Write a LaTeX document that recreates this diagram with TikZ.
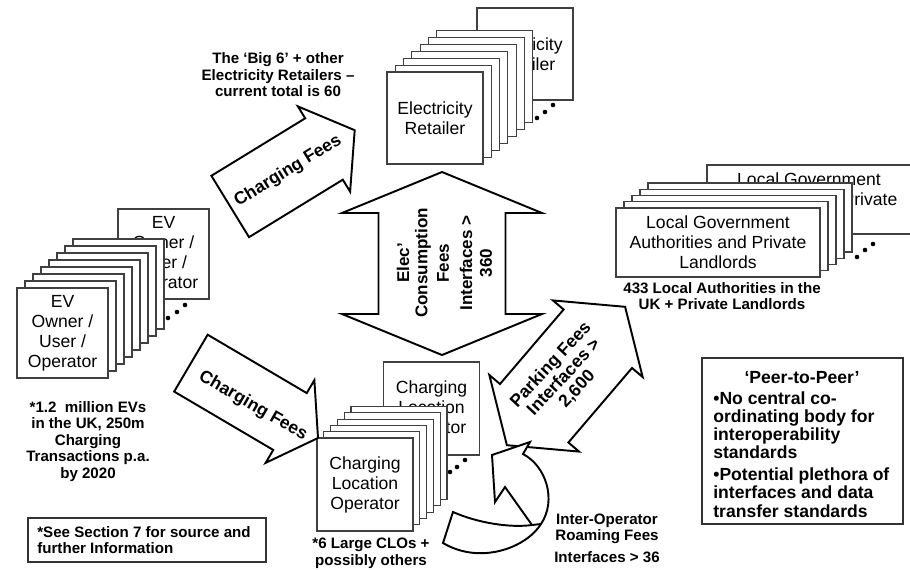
\documentclass[tikz,border=0pt]{standalone}
\usepackage{fontspec}
\setmainfont{Liberation Sans}
\newlength{\pxu}
\setlength{\pxu}{0.02cm}
\tikzset{
  card/.style={draw=black!75, line width=0.6pt, fill=white, inner sep=0pt, align=center,
    font=\fontsize{10}{11.4}\selectfont},
  evcard/.style={card, minimum width=91\pxu, minimum height=90\pxu},
  ercard/.style={card, minimum width=96\pxu, minimum height=92\pxu},
  lgcard/.style={card, minimum width=204\pxu, minimum height=69\pxu},
  clocard/.style={card, minimum width=96\pxu, minimum height=93\pxu},
  blockarrow/.style={draw=black, line width=1.1pt, fill=white, line join=miter, miter limit=20},
  arrowtext/.style={inner sep=0pt, align=center, font=\fontsize{10}{11.4}\selectfont\bfseries},
  elecline/.style={inner sep=0pt, rotate=90, font=\fontsize{9.7}{11}\selectfont\bfseries},
  note/.style={inner sep=0pt, align=center, font=\fontsize{8.6}{9.4}\selectfont\bfseries},
  peertext/.style={inner sep=0pt, font=\fontsize{10}{10.4}\selectfont\bfseries},
  infobox/.style={draw=black!80, line width=0.7pt, fill=white, inner sep=0pt},
  stackdot/.style={fill=black},
}
% single block arrow: base of head, angle, tail length, head length, shaft half width, head half width
\newcommand{\sglarrow}[6]{%
  \begin{scope}[shift={#1}, rotate=#2]
    \draw[blockarrow] (-#3,-#5) -- (0,-#5) -- (0,-#6) -- (#4,0) -- (0,#6) -- (0,#5) -- (-#3,#5) -- cycle;
  \end{scope}}
% double block arrow: centre, angle, half length, head length, shaft half width, head half width
\newcommand{\dblarrow}[6]{%
  \begin{scope}[shift={#1}, rotate=#2]
    \draw[blockarrow] (#3,0) -- ({#3-#4},-#6) -- ({#3-#4},-#5) -- ({-#3+#4},-#5) -- ({-#3+#4},-#6)
      -- (-#3,0) -- ({-#3+#4},#6) -- ({-#3+#4},#5) -- ({#3-#4},#5) -- ({#3-#4},#6) -- cycle;
  \end{scope}}
\begin{document}
\begin{tikzpicture}[x=0.02cm, y=-0.02cm]
\useasboundingbox (0,0) rectangle (910,569);

% ---------- EV owners stack
\node[evcard] (evfar) at (163.5,254) {EV\\Owner /\\User /\\Operator};
\foreach \p in {(168,318),(177,312),(185,305)} \fill[stackdot] \p circle[radius=1.3pt];
\foreach \i in {7,6,...,1} \node[evcard] (ev\i) at ({62.5+8*\i},{333-7*\i}) {};
\node[evcard] (ev0) at (62.5,333) {EV\\Owner /\\User /\\Operator};

% ---------- electricity retailers stack
\node[ercard] (erfar) at (525,54) {Electricity\\Retailer};
\foreach \p in {(537,118),(545,112),(553,105)} \fill[stackdot] \p circle[radius=1.3pt];
\foreach \i in {6,5,...,1} \node[ercard] (er\i) at ({435+8.3*\i},{118-6.9*\i}) {};
\node[ercard] (er0) at (435,118) {Electricity\\Retailer};

% ---------- local authorities stack
\node[lgcard] (lgfar) at (809,199.5) {Local Government\\Authorities and Private\\Landlords};
\foreach \p in {(857,257),(865,250),(873,244)} \fill[stackdot] \p circle[radius=1.3pt];
\foreach \i in {4,3,2,1} \node[lgcard] (lg\i) at ({718+8*\i},{242.5-6.25*\i}) {};
\node[lgcard] (lg0) at (718,242.5) {Local Government\\Authorities and Private\\Landlords};

% ---------- charging location operators stack
\node[clocard] (clofar) at (431.5,408.5) {Charging\\Location\\Operator};
\foreach \p in {(450,472),(457,467),(465,460)} \fill[stackdot] \p circle[radius=1.3pt];
\foreach \i in {5,4,...,1} \node[clocard] (clo\i) at ({365+6.8*\i},{484.5-6.3*\i}) {};
\node[clocard] (clo0) at (365,484.5) {Charging\\Location\\Operator};

% ---------- fee arrows
\sglarrow{(324,149)}{31.5}{110}{36}{36}{50}
\node[arrowtext, rotate=31.5] (feeup) at (288,171) {Charging Fees};

\sglarrow{(290,421.5)}{-30.5}{115}{32.5}{33}{48}
\node[arrowtext, rotate=-30] (feedown) at (253,406) {Charging Fees};

\dblarrow{(442,263.5)}{90}{91.5}{41}{63.5}{100}
\node[elecline] (elec1) at (403,263) {Elec’};
\node[elecline] (elec2) at (423,263) {Consumption};
\node[elecline] (elec3) at (443,263) {Fees};
\node[elecline] (elec4) at (466,263) {Interfaces >};
\node[elecline] (elec5) at (486,263) {360};

\dblarrow{(566,376)}{49.5}{91}{42}{45}{59}
\node[arrowtext, rotate=47, font=\fontsize{10}{10.2}\selectfont\bfseries] (park) at (564,377)
  {Parking Fees\\Interfaces >\\2,600};

% roaming arrow: band from the lower left curling up, head pointing back at the operators
\draw[blockarrow] (453,512) .. controls (478,523) and (510,528) .. (532,525)
  -- (505,487) -- (495,502) -- (492,455) -- (530,442) -- (523,454)
  .. controls (546,466) and (557,500) .. (541,524)
  .. controls (526,548) and (480,565) .. (443,543) -- cycle;
\draw[blockarrow, fill=none] (532,525) -- (541,524);

% ---------- annotations
\node[note] (bigsix) at (278,75) {The ‘Big 6’ + other\\Electricity Retailers –\\current total is 60};
\node[note] (lanote) at (722,296) {433 Local Authorities in the\\UK + Private Landlords};
\node[note] (evnote) at (88,441.5) {*1.2~ million EVs\\in the UK, 250m\\Charging\\Transactions p.a.\\by 2020};
\node[note] (clonote) at (371,553.5) {*6 Large CLOs +\\possibly others};
\node[note] (roam) at (607,538) {Inter-Operator\\Roaming Fees\\[3pt]Interfaces > 36};

\node[infobox, minimum width=238\pxu, minimum height=44\pxu] (srcbox) at (147,540) {};
\node[note, align=left, anchor=west] (srctext) at (37,540) {*See Section 7 for source and\\further Information};

\node[infobox, minimum width=201\pxu, minimum height=166\pxu] (peer) at (802.5,441) {};
\node[peertext] (peertitle) at (802,378) {‘Peer-to-Peer’};
\node[peertext, align=left, anchor=north west] (peerbody) at (713,391)
  {•No central co-\\ordinating body for\\interoperability\\standards\\[2pt]•Potential plethora of\\interfaces and data\\transfer standards};
\end{tikzpicture}
\end{document}
